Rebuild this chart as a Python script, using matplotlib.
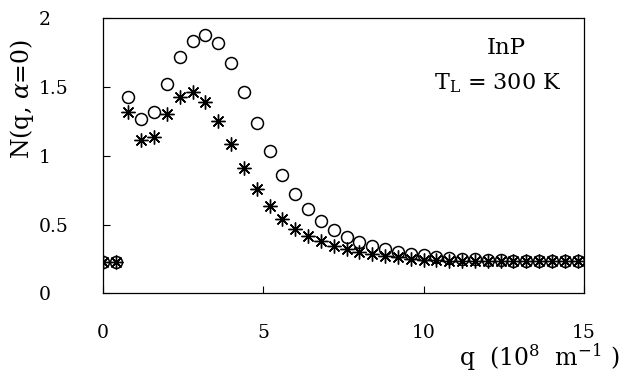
import numpy as np
import matplotlib
matplotlib.use('Agg')
import matplotlib.pyplot as plt

plt.rcParams['font.family'] = 'DejaVu Serif'
plt.rcParams['mathtext.fontset'] = 'dejavuserif'

# wave vector grid (10^8 m^-1)
q = np.arange(38) * 0.4

# circles
n_open = [0.23, 0.23, 1.43, 1.265, 1.32, 1.52, 1.716, 1.837, 1.878, 1.82,
          1.677, 1.462, 1.236, 1.035, 0.86, 0.722, 0.61, 0.528, 0.46, 0.412,
          0.373, 0.345, 0.32, 0.303, 0.288, 0.277, 0.267, 0.259, 0.252, 0.247,
          0.243, 0.24, 0.238, 0.236, 0.235, 0.234, 0.233, 0.233]

# asterisks
n_star = [0.23, 0.23, 1.32, 1.115, 1.14, 1.30, 1.43, 1.46, 1.39, 1.255,
          1.084, 0.91, 0.758, 0.637, 0.54, 0.468, 0.415, 0.378, 0.342, 0.32,
          0.302, 0.287, 0.272, 0.262, 0.253, 0.245, 0.24, 0.236, 0.234, 0.233,
          0.232, 0.232, 0.232, 0.232, 0.232, 0.232, 0.232, 0.232]

xticks = [0, 5, 10, 15]
yticks = [0, 0.5, 1, 1.5, 2]
ytick_labels = ['0', '0.5', '1', '1.5', '2']

fig = plt.figure(figsize=(6.26, 3.79), dpi=100)
ax = fig.add_axes([0.164, 0.226, 0.769, 0.726])

ax.plot(q, n_open, linestyle='none', marker='o', markersize=8.6,
        markerfacecolor='none', markeredgecolor='black', markeredgewidth=1.1)
ax.plot(q, n_star, linestyle='none', marker=(8, 2, 0), markersize=10,
        color='black', markeredgewidth=1.0)
ax.plot(q, n_star, linestyle='none', marker='o', markersize=2.5, color='black')

ax.set_xlim(0, 15)
ax.set_ylim(0, 2)
ax.set_xticks(xticks)
ax.set_yticks(yticks)
ax.set_yticklabels(ytick_labels)
ax.tick_params(direction='in', length=5, width=0.8, labelsize=13.5, pad=22,
               top=False, right=False)
ax.tick_params(axis='y', pad=46)
for lbl in ax.get_yticklabels():
    lbl.set_horizontalalignment('left')
for s in ax.spines.values():
    s.set_linewidth(0.9)

ax.text(0.838, 0.87, 'InP', transform=ax.transAxes, fontsize=16.5, ha='center')
ax.text(0.82, 0.74, r'T$_{\mathrm{L}}$ = 300 K', transform=ax.transAxes,
        fontsize=16, ha='center')

fig.text(0.035, 0.74, r'N(q, $\alpha$=0)', rotation=90, fontsize=17,
         ha='center', va='center')
fig.text(0.99, 0.035, r'q  (10$^{8}$  m$^{-1}$ )', fontsize=17, ha='right')

fig.savefig('out.png', dpi=100)
